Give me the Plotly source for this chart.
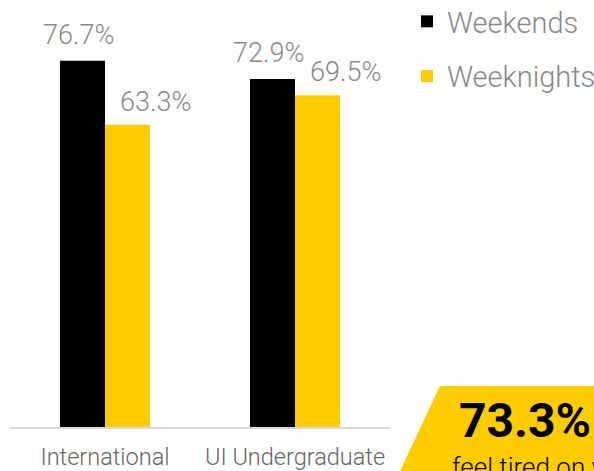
import plotly.graph_objects as go

categories = ["International", "UI Undergraduate"]
weekends = [76.7, 72.9]
weeknights = [63.3, 69.5]
series_names = ["Weekends", "Weeknights"]
callout_value = "73.3%"
callout_text = "feel tired on weekends"

BLACK = "#000000"
YELLOW = "#FFCC00"
GRAY = "#888888"
FONT = "Roboto Light, Roboto"

W, H = 594, 471
L, R, T, B = 10, 204, 45, 44
plot_w = W - L - R
plot_h = H - T - B


def px_x(p):
    return (p - L) / plot_w


def px_y(q):
    return (H - B - q) / plot_h


fig = go.Figure()
fig.add_trace(go.Bar(x=categories, y=weekends, name=series_names[0],
                     marker=dict(color=BLACK, line=dict(width=0)),
                     legendgroup="a"))
fig.add_trace(go.Bar(x=categories, y=weeknights, name=series_names[1],
                     marker=dict(color=YELLOW, line=dict(width=0)),
                     legendgroup="b"))

annotations = []
for c, v in zip(categories, weekends):
    annotations.append(dict(x=c, y=v, xref="x", yref="y", text=f"{v:.1f}%",
                            showarrow=False, xanchor="center", yanchor="bottom",
                            xshift=-27, yshift=8,
                            font=dict(family=FONT, size=27, color=GRAY, weight=300)))
for c, v in zip(categories, weeknights):
    annotations.append(dict(x=c, y=v, xref="x", yref="y", text=f"{v:.1f}%",
                            showarrow=False, xanchor="center", yanchor="bottom",
                            xshift=50, yshift=5,
                            font=dict(family=FONT, size=27, color=GRAY, weight=300)))

annotations.append(dict(x=px_x(525), y=px_y(420), xref="paper", yref="paper",
                        text=f"<b>{callout_value}</b>", showarrow=False,
                        xanchor="center", yanchor="middle",
                        font=dict(family="Roboto", size=48, color=BLACK)))
annotations.append(dict(x=px_x(450), y=px_y(450), xref="paper", yref="paper",
                        text=callout_text, showarrow=False,
                        xanchor="left", yanchor="top",
                        font=dict(family=FONT, size=26, color=BLACK, weight=300)))

shapes = [dict(type="path", xref="paper", yref="paper", layer="below",
               path=(f"M {px_x(400)} {px_y(471)} L {px_x(440)} {px_y(386)} "
                     f"L {px_x(620)} {px_y(386)} L {px_x(620)} {px_y(471)} Z"),
               fillcolor=YELLOW, line=dict(width=0))]

fig.update_layout(
    width=W, height=H,
    margin=dict(l=L, r=R, t=T, b=B, autoexpand=False),
    paper_bgcolor="white", plot_bgcolor="white",
    barmode="group", bargap=0.526, bargroupgap=0,
    showlegend=True,
    legend=dict(x=px_x(407), y=px_y(-4), xanchor="left", yanchor="top",
                traceorder="grouped", tracegroupgap=14,
                font=dict(family=FONT, size=29, color=GRAY, weight=300),
                bgcolor="rgba(0,0,0,0)"),
    xaxis=dict(showline=True, linecolor="#d9d9d9", linewidth=2,
               ticks="outside", ticklen=8, tickcolor="rgba(0,0,0,0)",
               tickfont=dict(family=FONT, size=23.5, color="#666666", weight=300),
               showgrid=False, fixedrange=True),
    yaxis=dict(range=[0, 80], visible=False, showgrid=False, fixedrange=True),
    annotations=annotations,
    shapes=shapes,
)

fig.write_html("out.html", config={"displayModeBar": False},
               post_script="document.body.style.margin='0';document.body.style.overflow='hidden';")
